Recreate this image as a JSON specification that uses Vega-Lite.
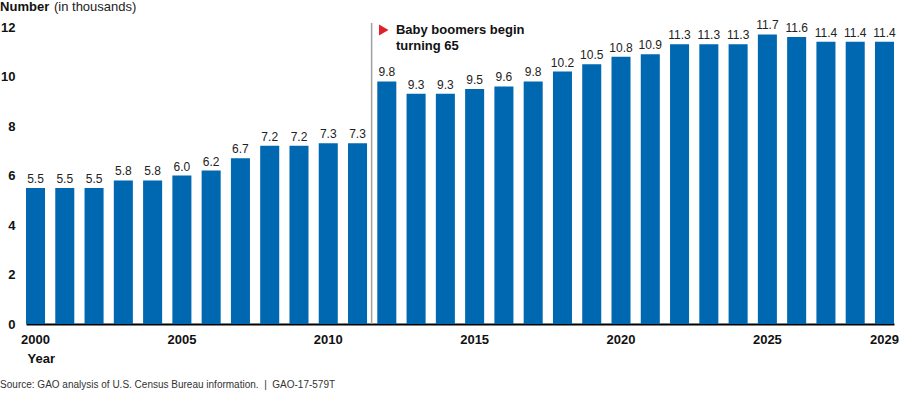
{
  "$schema": "https://vega.github.io/schema/vega-lite/v6.json",
  "width": 868,
  "height": 297,
  "autosize": {"type": "none"},
  "padding": {"left": 26, "top": 27, "right": 10, "bottom": 70},
  "background": "white",
  "config": {"font": "Liberation Sans", "view": {"stroke": null}},
  "title": {
    "text": "Source: GAO analysis of U.S. Census Bureau information.\u00a0\u00a0|\u00a0\u00a0GAO-17-579T",
    "orient": "bottom",
    "anchor": "start",
    "frame": "bounds",
    "fontSize": 10,
    "fontWeight": "normal",
    "color": "#333333",
    "offset": 15
  },
  "datasets": {
    "births": [
      {"year": "2000", "value": 5.5},
      {"year": "2001", "value": 5.5},
      {"year": "2002", "value": 5.5},
      {"year": "2003", "value": 5.8},
      {"year": "2004", "value": 5.8},
      {"year": "2005", "value": 6.0},
      {"year": "2006", "value": 6.2},
      {"year": "2007", "value": 6.7},
      {"year": "2008", "value": 7.2},
      {"year": "2009", "value": 7.2},
      {"year": "2010", "value": 7.3},
      {"year": "2011", "value": 7.3},
      {"year": "2012", "value": 9.8},
      {"year": "2013", "value": 9.3},
      {"year": "2014", "value": 9.3},
      {"year": "2015", "value": 9.5},
      {"year": "2016", "value": 9.6},
      {"year": "2017", "value": 9.8},
      {"year": "2018", "value": 10.2},
      {"year": "2019", "value": 10.5},
      {"year": "2020", "value": 10.8},
      {"year": "2021", "value": 10.9},
      {"year": "2022", "value": 11.3},
      {"year": "2023", "value": 11.3},
      {"year": "2024", "value": 11.3},
      {"year": "2025", "value": 11.7},
      {"year": "2026", "value": 11.6},
      {"year": "2027", "value": 11.4},
      {"year": "2028", "value": 11.4},
      {"year": "2029", "value": 11.4}
    ],
    "one": [{"note": "annotation"}]
  },
  "layer": [
    {
      "data": {"name": "births"},
      "mark": {"type": "bar", "color": "#0067b1"},
      "encoding": {
        "x": {
          "field": "year",
          "type": "ordinal",
          "scale": {"paddingInner": 0.35, "paddingOuter": 0},
          "axis": {
            "title": "Year",
            "titleFontWeight": "bold",
            "titleFontSize": 13,
            "titleColor": "#111111",
            "titleAnchor": "start",
            "titleAlign": "left",
            "titleBaseline": "middle",
            "titleX": 1,
            "titleY": 34,
            "values": ["2000", "2005", "2010", "2015", "2020", "2025", "2029"],
            "labelAngle": 0,
            "labelFontWeight": "bold",
            "labelFontSize": 13,
            "labelColor": "#111111",
            "labelPadding": 9,
            "labelBaseline": "top",
            "ticks": false,
            "tickSize": 0,
            "domainColor": "#000000",
            "domainWidth": 2,
            "grid": false
          }
        },
        "y": {
          "field": "value",
          "type": "quantitative",
          "scale": {"domain": [0, 12], "nice": false},
          "axis": {
            "title": null,
            "values": [0, 2, 4, 6, 8, 10, 12],
            "labelFontWeight": "bold",
            "labelFontSize": 13,
            "labelColor": "#111111",
            "labelPadding": 11,
            "ticks": false,
            "tickSize": 0,
            "domain": false,
            "grid": false
          }
        }
      }
    },
    {
      "data": {"name": "births"},
      "mark": {"type": "text", "baseline": "bottom", "dy": -2, "fontSize": 12, "color": "#222222"},
      "encoding": {
        "x": {"field": "year", "type": "ordinal"},
        "y": {"field": "value", "type": "quantitative"},
        "text": {"field": "value", "type": "quantitative", "format": ".1f"}
      }
    },
    {
      "data": {"name": "one"},
      "mark": {"type": "rule", "color": "#a0a0a0", "strokeWidth": 1.5},
      "encoding": {
        "x": {"datum": "2011", "type": "ordinal", "bandPosition": 1.24},
        "y": {"datum": 12.16, "type": "quantitative"},
        "y2": {"datum": 0}
      }
    },
    {
      "data": {"name": "one"},
      "mark": {"type": "point", "shape": "triangle-right", "filled": true, "color": "#e0202a", "opacity": 1, "size": 120},
      "encoding": {
        "x": {"datum": "2012", "type": "ordinal", "bandPosition": 0.34},
        "y": {"datum": 11.88, "type": "quantitative"}
      }
    },
    {
      "data": {"name": "one"},
      "mark": {"type": "text", "align": "left", "baseline": "top", "fontSize": 13, "fontWeight": "bold", "color": "#111111", "lineHeight": 16},
      "encoding": {
        "x": {"datum": "2012", "type": "ordinal", "bandPosition": 0.98},
        "y": {"datum": 12.12, "type": "quantitative"},
        "text": {"value": ["Baby boomers begin", "turning 65"]}
      }
    },
    {
      "data": {"name": "one"},
      "mark": {"type": "text", "align": "left", "baseline": "middle", "fontSize": 13, "fontWeight": "bold", "color": "#111111"},
      "encoding": {
        "x": {"datum": "2000", "type": "ordinal", "bandPosition": -1.36},
        "y": {"datum": 12.81, "type": "quantitative"},
        "text": {"value": "Number"}
      }
    },
    {
      "data": {"name": "one"},
      "mark": {"type": "text", "align": "left", "baseline": "middle", "fontSize": 13, "fontWeight": "normal", "color": "#222222"},
      "encoding": {
        "x": {"datum": "2000", "type": "ordinal", "bandPosition": 1.47},
        "y": {"datum": 12.81, "type": "quantitative"},
        "text": {"value": "(in thousands)"}
      }
    }
  ]
}
